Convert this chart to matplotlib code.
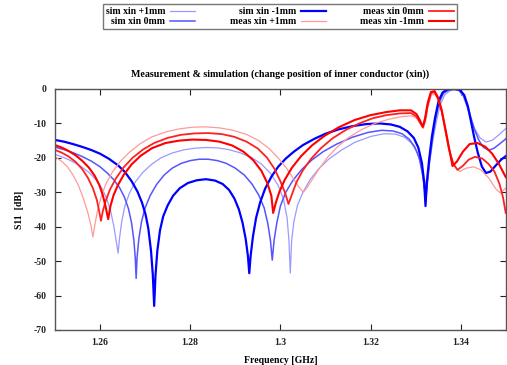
import numpy as np
import matplotlib
matplotlib.use("Agg")
import matplotlib.pyplot as plt
from matplotlib.ticker import FuncFormatter

# frequency [GHz] / S11 [dB]
f_sim_p1 = [1.2500, 1.2515, 1.2530, 1.2545, 1.2560, 1.2575, 1.2590, 1.2603, 1.2614, 1.2623,
            1.2630, 1.2635, 1.2640, 1.2643, 1.2648, 1.2655, 1.2665, 1.2678, 1.2695, 1.2715,
            1.2735, 1.2760, 1.2785, 1.2810, 1.2835, 1.2860, 1.2885, 1.2910, 1.2935, 1.2958,
            1.2978, 1.2995, 1.3007, 1.3015, 1.3019, 1.3022, 1.3025, 1.3030, 1.3038, 1.3050,
            1.3066, 1.3085, 1.3108, 1.3135, 1.3165, 1.3200, 1.3230, 1.3255, 1.3275, 1.3290,
            1.3302, 1.3311, 1.3317, 1.3322, 1.3327, 1.3332, 1.3339, 1.3346, 1.3355, 1.3365,
            1.3378, 1.3388, 1.3397, 1.3406, 1.3414, 1.3422, 1.3432, 1.3443, 1.3456, 1.3470,
            1.3485, 1.3500]
s_sim_p1 = [-19.0, -19.7, -20.5, -21.5, -22.7, -24.2, -26.2, -28.6, -31.6, -35.2,
            -39.5, -43.5, -47.7, -43.5, -38.5, -34.0, -30.3, -27.0, -24.2, -21.8,
            -20.0, -18.6, -17.7, -17.2, -17.0, -17.1, -17.6, -18.5, -19.8, -21.8,
            -24.5, -28.0, -32.0, -37.5, -44.0, -53.5, -44.0, -38.5, -33.8, -30.0,
            -26.3, -23.2, -20.3, -17.8, -15.5, -13.8, -13.0, -13.1, -14.0, -15.6,
            -18.0, -21.5, -26.0, -32.5, -26.0, -20.5, -14.5, -9.5, -4.5, -1.6,
            -0.4, -0.2, -0.6, -2.2, -5.2, -8.5, -11.8, -14.2, -15.4, -14.9,
            -13.3, -11.5]

f_sim_0 = [1.2500, 1.2520, 1.2540, 1.2560, 1.2580, 1.2600, 1.2615, 1.2630, 1.2643, 1.2654,
           1.2663, 1.2670, 1.2675, 1.2678, 1.2680, 1.2682, 1.2686, 1.2692, 1.2700, 1.2711,
           1.2725, 1.2742, 1.2760, 1.2780, 1.2800, 1.2820, 1.2840, 1.2860, 1.2880, 1.2900,
           1.2920, 1.2937, 1.2952, 1.2964, 1.2972, 1.2978, 1.2982, 1.2986, 1.2992, 1.3000,
           1.3012, 1.3028, 1.3048, 1.3070, 1.3095, 1.3125, 1.3160, 1.3195, 1.3225, 1.3250,
           1.3270, 1.3286, 1.3298, 1.3308, 1.3315, 1.3320, 1.3322, 1.3326, 1.3331, 1.3337,
           1.3344, 1.3352, 1.3362, 1.3375, 1.3386, 1.3396, 1.3406, 1.3414, 1.3422, 1.3430,
           1.3440, 1.3450, 1.3462, 1.3474, 1.3487, 1.3500]
s_sim_0 = [-16.9, -17.6, -18.5, -19.6, -20.9, -22.6, -24.3, -26.3, -28.6, -31.4,
           -34.8, -39.0, -44.0, -49.0, -55.0, -49.0, -43.5, -38.5, -34.5, -31.0,
           -27.8, -25.0, -23.0, -21.6, -20.8, -20.4, -20.4, -20.8, -21.6, -23.0,
           -25.0, -27.6, -30.8, -34.5, -39.0, -44.0, -49.7, -44.0, -39.0, -34.0,
           -30.0, -26.5, -23.3, -20.6, -18.2, -16.0, -14.0, -12.6, -12.0, -12.2,
           -13.0, -14.6, -16.8, -20.0, -24.5, -29.0, -33.0, -27.5, -21.0, -14.8,
           -9.0, -4.0, -1.2, -0.2, 0.0, -0.3, -1.8, -4.5, -8.0, -11.5,
           -14.8, -16.9, -17.8, -17.2, -15.9, -14.5]

f_sim_m1 = [1.2500, 1.2520, 1.2540, 1.2560, 1.2580, 1.2600, 1.2620, 1.2640, 1.2655, 1.2670,
            1.2683, 1.2693, 1.2701, 1.2707, 1.2713, 1.2717, 1.2720, 1.2723, 1.2727, 1.2733,
            1.2740, 1.2750, 1.2762, 1.2777, 1.2795, 1.2815, 1.2835, 1.2855, 1.2872, 1.2886,
            1.2898, 1.2908, 1.2916, 1.2923, 1.2928, 1.2931, 1.2934, 1.2939, 1.2946, 1.2955,
            1.2966, 1.2980, 1.2995, 1.3012, 1.3030, 1.3050, 1.3075, 1.3100, 1.3130, 1.3160,
            1.3190, 1.3220, 1.3245, 1.3265, 1.3282, 1.3296, 1.3306, 1.3314, 1.3319, 1.3322,
            1.3325, 1.3330, 1.3336, 1.3343, 1.3351, 1.3360, 1.3371, 1.3385, 1.3398, 1.3408,
            1.3416, 1.3423, 1.3430, 1.3438, 1.3447, 1.3456, 1.3466, 1.3478, 1.3490, 1.3500]
s_sim_m1 = [-14.8, -15.3, -16.0, -16.8, -17.7, -18.8, -20.3, -22.2, -24.1, -26.8,
            -29.8, -33.0, -36.5, -40.5, -47.0, -54.0, -63.0, -54.0, -47.0, -41.0,
            -37.0, -33.8, -31.0, -28.8, -27.3, -26.5, -26.2, -26.6, -27.6, -29.3,
            -31.8, -35.0, -38.8, -43.5, -48.5, -53.5, -48.5, -43.0, -37.5, -33.0,
            -29.0, -25.5, -22.6, -20.2, -18.2, -16.3, -14.5, -13.0, -11.7, -10.8,
            -10.2, -10.0, -10.3, -11.0, -12.3, -14.2, -17.0, -21.5, -27.0, -34.0,
            -27.0, -20.5, -14.0, -8.5, -3.5, -1.0, -0.1, 0.0, -0.2, -1.8,
            -5.0, -9.5, -14.0, -18.5, -22.5, -24.4, -24.0, -22.2, -20.5, -19.5]

f_meas_p1 = [1.2500, 1.2515, 1.2528, 1.2540, 1.2552, 1.2563, 1.2573, 1.2580, 1.2584, 1.2588,
             1.2594, 1.2602, 1.2613, 1.2628, 1.2645, 1.2665, 1.2690, 1.2715, 1.2745, 1.2775,
             1.2805, 1.2835, 1.2865, 1.2895, 1.2925, 1.2952, 1.2975, 1.2995, 1.3013, 1.3028,
             1.3040, 1.3051, 1.3060, 1.3072, 1.3088, 1.3105, 1.3125, 1.3150, 1.3180, 1.3210,
             1.3240, 1.3270, 1.3292, 1.3303, 1.3311, 1.3317, 1.3322, 1.3328, 1.3335, 1.3343,
             1.3351, 1.3360, 1.3368, 1.3376, 1.3386, 1.3398, 1.3412, 1.3429, 1.3445, 1.3462,
             1.3478, 1.3488, 1.3500]
s_meas_p1 = [-19.7, -21.0, -22.7, -25.0, -28.0, -31.8, -36.0, -39.8, -43.0, -39.8,
             -35.5, -31.5, -27.5, -24.0, -21.0, -18.4, -15.8, -13.9, -12.5, -11.6,
             -11.1, -11.0, -11.3, -12.0, -13.2, -15.0, -17.3, -20.0, -22.9, -25.8,
             -28.3, -30.0, -28.5, -26.0, -22.8, -19.8, -17.0, -14.2, -11.8, -10.0,
             -8.8, -8.0, -7.8, -8.6, -10.2, -11.5, -9.5, -5.0, -1.8, -1.5,
             -3.5, -7.5, -13.0, -18.5, -22.3, -24.0, -23.0, -22.6, -23.5, -25.8,
             -29.0, -30.2, -28.8]

f_meas_0 = [1.2500, 1.2515, 1.2530, 1.2545, 1.2560, 1.2573, 1.2584, 1.2593, 1.2598, 1.2602,
            1.2606, 1.2613, 1.2622, 1.2635, 1.2652, 1.2672, 1.2695, 1.2720, 1.2750, 1.2780,
            1.2810, 1.2840, 1.2870, 1.2898, 1.2925, 1.2950, 1.2970, 1.2987, 1.3000, 1.3010,
            1.3018, 1.3026, 1.3036, 1.3050, 1.3068, 1.3090, 1.3115, 1.3145, 1.3175, 1.3205,
            1.3235, 1.3265, 1.3290, 1.3302, 1.3310, 1.3316, 1.3321, 1.3327, 1.3334, 1.3342,
            1.3350, 1.3358, 1.3366, 1.3374, 1.3384, 1.3393, 1.3405, 1.3418, 1.3432, 1.3448,
            1.3462, 1.3475, 1.3486, 1.3494, 1.3500]
s_meas_0 = [-17.7, -18.5, -19.6, -21.1, -23.2, -25.8, -28.8, -32.3, -35.5, -38.3,
            -35.5, -32.3, -29.2, -26.0, -22.8, -20.0, -17.6, -15.7, -14.2, -13.3,
            -12.9, -12.8, -13.1, -13.9, -15.3, -17.3, -19.9, -23.2, -26.8, -30.0,
            -33.4, -30.5, -27.0, -23.6, -20.3, -17.2, -14.4, -11.9, -10.0, -8.5,
            -7.6, -7.1, -7.0, -8.0, -9.8, -11.0, -9.0, -4.5, -1.2, -0.9,
            -2.8, -6.5, -12.0, -17.5, -21.8, -23.5, -22.3, -20.5, -19.7, -20.2,
            -21.8, -24.0, -27.5, -31.5, -36.0]

f_meas_m1 = [1.2500, 1.2515, 1.2530, 1.2545, 1.2560, 1.2575, 1.2588, 1.2598, 1.2606, 1.2612,
             1.2618, 1.2623, 1.2630, 1.2640, 1.2653, 1.2670, 1.2690, 1.2715, 1.2745, 1.2775,
             1.2805, 1.2835, 1.2865, 1.2893, 1.2918, 1.2940, 1.2958, 1.2971, 1.2980, 1.2984,
             1.2990, 1.2998, 1.3010, 1.3026, 1.3046, 1.3070, 1.3098, 1.3130, 1.3165, 1.3200,
             1.3235, 1.3265, 1.3290, 1.3302, 1.3310, 1.3316, 1.3321, 1.3327, 1.3334, 1.3342,
             1.3350, 1.3358, 1.3366, 1.3374, 1.3382, 1.3392, 1.3405, 1.3420, 1.3437, 1.3455,
             1.3470, 1.3485, 1.3500]
s_meas_m1 = [-16.3, -17.0, -18.0, -19.2, -20.8, -22.8, -25.2, -27.8, -30.8, -34.0,
             -37.8, -34.0, -30.8, -27.8, -24.8, -21.9, -19.4, -17.2, -15.7, -15.0,
             -14.7, -14.8, -15.3, -16.4, -18.2, -20.7, -23.8, -27.3, -31.0, -36.0,
             -33.0, -29.8, -26.3, -22.8, -19.5, -16.4, -13.6, -11.1, -9.0, -7.6,
             -6.7, -6.2, -6.2, -7.3, -9.2, -11.0, -8.5, -4.0, -0.9, -0.6,
             -2.5, -6.2, -11.5, -17.0, -22.4, -21.0, -18.2, -16.0, -15.7, -16.8,
             -18.8, -21.8, -25.6]

labels = ["sim xin +1mm", "sim xin 0mm", "sim xin -1mm",
          "meas xin +1mm", "meas xin 0mm", "meas xin -1mm"]
xticks = [1.26, 1.28, 1.30, 1.32, 1.34]
yticks = [0, -10, -20, -30, -40, -50, -60, -70]

plt.rcParams['font.family'] = ['Liberation Serif', 'DejaVu Serif']
plt.rcParams['font.weight'] = 'bold'

fig = plt.figure(figsize=(5.07, 3.65), dpi=100)
ax = fig.add_axes([0.1085, 0.0959, 0.8890, 0.6603])

series = [
    (f_sim_p1, s_sim_p1, "#9a9aff", 0.9),
    (f_sim_0, s_sim_0, "#5555ff", 1.1),
    (f_sim_m1, s_sim_m1, "#0000ff", 1.6),
    (f_meas_p1, s_meas_p1, "#ff9a9a", 0.9),
    (f_meas_0, s_meas_0, "#ff2020", 1.3),
    (f_meas_m1, s_meas_m1, "#ff0000", 1.5),
]
for (f, s, c, lw), lab in zip(series, labels):
    ax.plot(f, s, color=c, lw=lw, label=lab, solid_joinstyle='round')

ax.set_xlim(1.25, 1.35)
ax.set_ylim(-70, 0)
ax.set_xticks(xticks)
ax.set_yticks(yticks)
ax.xaxis.set_major_formatter(FuncFormatter(lambda v, p: "%g" % round(v, 2)))
ax.yaxis.set_major_formatter(FuncFormatter(lambda v, p: "%d" % v))
ax.tick_params(direction='in', length=4, width=0.8, top=True, right=True,
               labelsize=7, colors='#222222', pad=6)
for sp in ax.spines.values():
    sp.set_color('#555555')
    sp.set_linewidth(1.0)

ax.set_title("Measurement & simulation (change position of inner conductor (xin))",
             fontsize=7.2, fontweight='bold', pad=9)
ax.set_xlabel("Frequency [GHz]", fontsize=7, fontweight='bold', labelpad=6)
ax.set_ylabel("S11  [dB]", fontsize=7, fontweight='bold', labelpad=7)

leg = fig.legend(loc='upper left', bbox_to_anchor=(0.203, 0.989), ncol=3,
                 markerfirst=False, fontsize=7, frameon=True, fancybox=False,
                 handlelength=2.6, handletextpad=0.5, columnspacing=3.5,
                 borderpad=0.3, labelspacing=0.15, borderaxespad=0)
leg.get_frame().set_edgecolor('#555555')
leg.get_frame().set_linewidth(1.0)
for t in leg.get_texts():
    t.set_fontweight('bold')

fig.savefig("out.png", dpi=100)
